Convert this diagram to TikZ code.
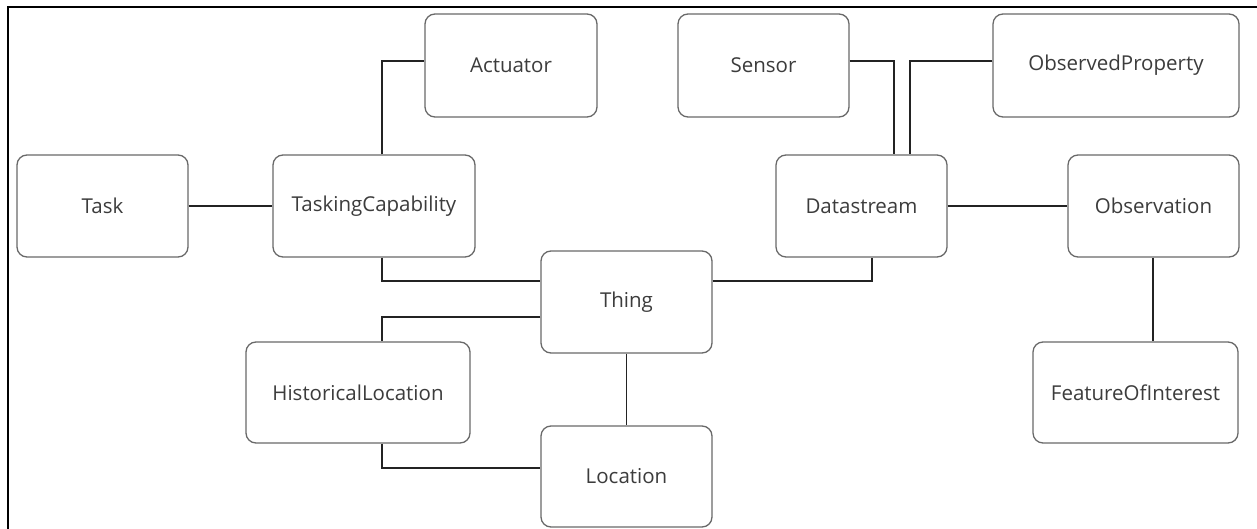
\documentclass[tikz,border=0pt]{standalone}
\usepackage{fontspec}
\setmainfont{Open Sans}
\definecolor{boxgray}{RGB}{105,105,105}
\definecolor{linegray}{RGB}{35,35,35}
\definecolor{textgray}{RGB}{60,60,60}
\begin{document}
\begin{tikzpicture}[x=1pt,y=-1pt,
  ent/.style={draw=boxgray,line width=1.3pt,rounded corners=10pt,fill=white,
    inner sep=0pt,text=textgray,font=\fontsize{20.5}{24}\selectfont},
  conn/.style={draw=linegray,line width=1.6pt}]
\useasboundingbox (0,0) rectangle (1257,529);
\fill[white] (0,0) rectangle (1257,529);
\draw[line width=2.2pt,black] (8,529) -- (8,7) -- (1257,7);
\node[ent,minimum width=171pt,minimum height=102pt] (task) at (102.5,206) {Task};
\node[ent,minimum width=202pt,minimum height=102pt] (tc) at (374,206) {TaskingCapability};
\node[ent,minimum width=172pt,minimum height=103pt] (act) at (511,65.5) {Actuator};
\node[ent,minimum width=171pt,minimum height=103pt] (sensor) at (763.5,65.5) {Sensor};
\node[ent,minimum width=171pt,minimum height=102pt] (ds) at (861.5,206) {Datastream};
\node[ent,minimum width=246pt,minimum height=103pt] (op) at (1116,65.5) {ObservedProperty};
\node[ent,minimum width=171pt,minimum height=102pt] (obs) at (1153.5,206) {Observation};
\node[ent,minimum width=171pt,minimum height=102pt] (thing) at (626.5,302) {Thing};
\node[ent,minimum width=224pt,minimum height=101pt] (hl) at (358,392.5) {HistoricalLocation};
\node[ent,minimum width=171pt,minimum height=101pt] (loc) at (626.5,476.5) {Location};
\node[ent,minimum width=205pt,minimum height=101pt] (foi) at (1135.5,392.5) {FeatureOfInterest};
\draw[conn] (task.east) -- (tc.west);
\draw[conn] ([xshift=8pt]tc.north) |- ([yshift=4.5pt]act.west);
\draw[conn] ([xshift=8pt]tc.south) |- ([yshift=21pt]thing.west);
\draw[conn] ([yshift=-15pt]thing.west) -| ([xshift=24pt]hl.north);
\draw[conn] ([xshift=24pt]hl.south) |- ([yshift=8.5pt]loc.west);
\draw[conn] (thing.south) -- (loc.north);
\draw[conn] ([yshift=21pt]thing.east) -| ([xshift=10.5pt]ds.south);
\draw[conn] ([yshift=4.5pt]sensor.east) -| ([xshift=32.5pt]ds.north);
\draw[conn] ([yshift=4.5pt]op.west) -| ([xshift=48.5pt]ds.north);
\draw[conn] (ds.east) -- (obs.west);
\draw[conn] ([xshift=-0.5pt]obs.south) -- ([xshift=-0.5pt]obs.south |- foi.north);
\end{tikzpicture}
\end{document}
